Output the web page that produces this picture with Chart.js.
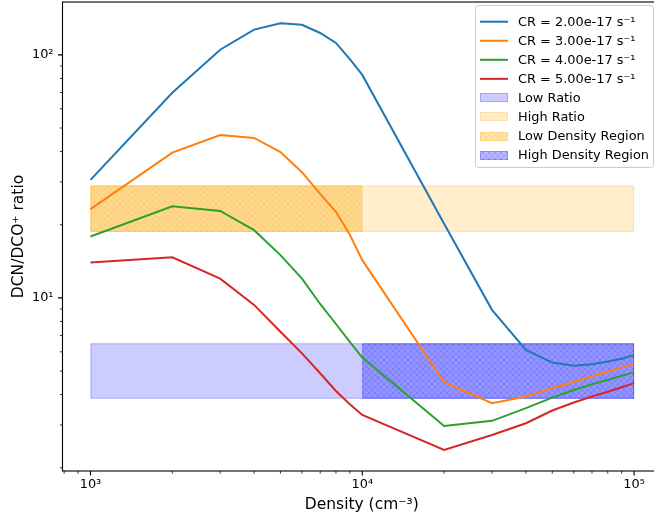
<!DOCTYPE html>
<html>
<head>
<meta charset="utf-8">
<script src="https://cdn.jsdelivr.net/npm/chart.js@4.4.1/dist/chart.umd.min.js"></script>
<style>
  html, body { margin: 0; padding: 0; background: #fff; overflow: hidden; }
  canvas { display: block; }
</style>
</head>
<body>
<canvas id="ratioChart" width="663" height="520"></canvas>
<script>
// densities (cm^-3) on the x axis
const densities = [1000, 2000, 3000, 4000, 5000, 6000, 7000, 8000, 9000, 10000,
  20000, 30000, 40000, 50000, 60000, 70000, 80000, 90000, 100000];

// DCN/DCO+ ratio for each cosmic ray rate
const cr2 = [30.6, 69.8, 105, 127, 135, 133, 123, 112, 96, 82.7, 20.2, 8.93, 6.11, 5.42, 5.26, 5.33, 5.47, 5.62, 5.82];
const cr3 = [23.2, 39.6, 46.8, 45.5, 39.8, 32.9, 26.8, 22.6, 18.2, 14.3, 4.50, 3.69, 3.93, 4.25, 4.51, 4.76, 4.98, 5.18, 5.38];
const cr4 = [17.9, 23.8, 22.8, 19.0, 15.0, 12.0, 9.44, 7.81, 6.59, 5.68, 2.97, 3.12, 3.52, 3.89, 4.18, 4.41, 4.60, 4.78, 4.94];
const cr5 = [14.0, 14.7, 12.0, 9.36, 7.26, 5.91, 4.90, 4.14, 3.65, 3.30, 2.37, 2.73, 3.05, 3.44, 3.71, 3.93, 4.11, 4.29, 4.46];

const crLabels = ["CR = 2.00e-17 s⁻¹", "CR = 3.00e-17 s⁻¹", "CR = 4.00e-17 s⁻¹", "CR = 5.00e-17 s⁻¹"];
const crColors = ["#1f77b4", "#ff7f0e", "#2ca02c", "#d62728"];

// shaded regions
const lowRatioRange = [3.85, 6.5];
const highRatioRange = [18.7, 29];
const lowDensityRange = [1000, 10000];
const highDensityRange = [10000, 100000];

// ticks
const xMajorTicks = [1000, 10000, 100000];
const xMajorLabels = ["10³", "10⁴", "10⁵"];
const xMinorTicks = [800, 900, 2000, 3000, 4000, 5000, 6000, 7000, 8000, 9000,
  20000, 30000, 40000, 50000, 60000, 70000, 80000, 90000];
const yMajorTicks = [10, 100];
const yMajorLabels = ["10¹", "10²"];
const yMinorTicks = [2, 3, 4, 5, 6, 7, 8, 9, 20, 30, 40, 50, 60, 70, 80, 90];

const FONT = "'DejaVu Sans', sans-serif";

function hatchPattern(ctx, color) {
  const c = document.createElement("canvas");
  c.width = 6; c.height = 6;
  const g = c.getContext("2d");
  g.strokeStyle = color;
  g.lineWidth = 0.8;
  g.beginPath();
  g.moveTo(0, 0); g.lineTo(6, 6);
  g.moveTo(6, 0); g.lineTo(0, 6);
  g.stroke();
  return ctx.createPattern(c, "repeat");
}

const bands = [
  { label: "Low Ratio", xr: [densities[0], densities[densities.length - 1]], yr: lowRatioRange, fill: "rgba(0,0,255,0.2)", hatch: null },
  { label: "High Ratio", xr: [densities[0], densities[densities.length - 1]], yr: highRatioRange, fill: "rgba(255,165,0,0.2)", hatch: null },
  { label: "Low Density Region", xr: lowDensityRange, yr: highRatioRange, fill: "rgba(255,165,0,0.3)", hatch: "rgba(255,165,0,0.22)" },
  { label: "High Density Region", xr: highDensityRange, yr: lowRatioRange, fill: "rgba(0,0,255,0.28)", hatch: "rgba(0,0,255,0.2)" }
];

function paintPatch(ctx, b, x, y, w, h) {
  ctx.fillStyle = b.fill;
  ctx.fillRect(x, y, w, h);
  if (b.hatch) {
    ctx.fillStyle = hatchPattern(ctx, b.hatch);
    ctx.fillRect(x, y, w, h);
  }
  ctx.strokeStyle = b.hatch || b.fill;
  ctx.lineWidth = 1;
  ctx.strokeRect(x + 0.5, y + 0.5, w - 1, h - 1);
}

const bandsPlugin = {
  id: "bands",
  beforeDatasetsDraw(chart) {
    const { ctx, chartArea, scales } = chart;
    ctx.save();
    ctx.beginPath();
    ctx.rect(chartArea.left, chartArea.top, chartArea.width, chartArea.height);
    ctx.clip();
    bands.forEach(b => {
      const x0 = scales.x.getPixelForValue(b.xr[0]);
      const x1 = scales.x.getPixelForValue(b.xr[1]);
      const y0 = scales.y.getPixelForValue(b.yr[1]);
      const y1 = scales.y.getPixelForValue(b.yr[0]);
      paintPatch(ctx, b, x0, y0, x1 - x0, y1 - y0);
    });
    ctx.restore();
  }
};

// spines + tick marks
const framePlugin = {
  id: "frame",
  afterDatasetsDraw(chart) {
    const { ctx, chartArea: a, scales } = chart;
    ctx.save();
    ctx.strokeStyle = "#000";
    ctx.lineWidth = 1.1;
    ctx.strokeRect(a.left, a.top, a.right - a.left, a.bottom - a.top);
    const tick = (vals, len, w) => {
      ctx.lineWidth = w;
      ctx.beginPath();
      vals.forEach(v => {
        const px = scales.x.getPixelForValue(v);
        if (px >= a.left && px <= a.right) { ctx.moveTo(px, a.bottom); ctx.lineTo(px, a.bottom + len); }
      });
      ctx.stroke();
    };
    const ytick = (vals, len, w) => {
      ctx.lineWidth = w;
      ctx.beginPath();
      vals.forEach(v => {
        const py = scales.y.getPixelForValue(v);
        if (py >= a.top && py <= a.bottom) { ctx.moveTo(a.left, py); ctx.lineTo(a.left - len, py); }
      });
      ctx.stroke();
    };
    tick(xMajorTicks, 4.5, 1.1);
    tick(xMinorTicks, 2.6, 0.8);
    ytick(yMajorTicks, 4.5, 1.1);
    ytick(yMinorTicks, 2.6, 0.8);
    ctx.restore();
  }
};

const legendPlugin = {
  id: "boxLegend",
  afterDraw(chart) {
    const ctx = chart.ctx;
    const bx = 475.5, by = 5.5, bw = 178, bh = 162, r = 3;
    ctx.save();
    ctx.beginPath();
    ctx.moveTo(bx + r, by);
    ctx.arcTo(bx + bw, by, bx + bw, by + bh, r);
    ctx.arcTo(bx + bw, by + bh, bx, by + bh, r);
    ctx.arcTo(bx, by + bh, bx, by, r);
    ctx.arcTo(bx, by, bx + bw, by, r);
    ctx.closePath();
    ctx.fillStyle = "rgba(255,255,255,0.8)";
    ctx.fill();
    ctx.strokeStyle = "#cccccc";
    ctx.lineWidth = 1;
    ctx.stroke();

    ctx.font = "12.9px " + FONT;
    ctx.textBaseline = "middle";
    ctx.textAlign = "left";
    let row = 0;
    const rowY = i => 21.7 + 19.05 * i;
    chart.data.datasets.forEach(ds => {
      const cy = rowY(row++);
      ctx.strokeStyle = ds.borderColor;
      ctx.lineWidth = 2;
      ctx.beginPath();
      ctx.moveTo(480, cy);
      ctx.lineTo(508, cy);
      ctx.stroke();
      ctx.fillStyle = "#000";
      ctx.fillText(ds.label, 518, cy + 0.5);
    });
    bands.forEach(b => {
      const cy = rowY(row++);
      paintPatch(ctx, b, 480, Math.round(cy - 4.5), 28, 9);
      ctx.fillStyle = "#000";
      ctx.fillText(b.label, 518, cy + 0.5);
    });
    ctx.restore();
  }
};

function tickLabel(majors, labels) {
  return v => {
    const i = majors.findIndex(m => Math.abs(m - v) < 1e-6 * m);
    return i >= 0 ? labels[i] : "";
  };
}

function noPad(s) {
  s.paddingTop = 0; s.paddingBottom = 0; s.paddingLeft = 0; s.paddingRight = 0;
}

new Chart(document.getElementById("ratioChart"), {
  type: "line",
  data: {
    datasets: [cr2, cr3, cr4, cr5].map((vals, i) => ({
      label: crLabels[i],
      data: densities.map((d, k) => ({ x: d, y: vals[k] })),
      borderColor: crColors[i],
      borderWidth: 2,
      pointRadius: 0,
      tension: 0,
      fill: false,
      order: 3 - i
    }))
  },
  options: {
    responsive: false,
    animation: false,
    devicePixelRatio: 1,
    layout: { padding: { top: 2, right: 2, left: 0, bottom: 0 } },
    plugins: { legend: { display: false }, tooltip: { enabled: false } },
    scales: {
      x: {
        type: "logarithmic",
        min: 789,
        max: 125600,
        bounds: "data",
        afterBuildTicks: s => { s.ticks = xMajorTicks.concat(xMinorTicks).sort((a, b) => a - b).map(v => ({ value: v })); },
        afterFit: s => { s.height = 49; noPad(s); },
        grid: { display: false, drawTicks: false },
        border: { display: false },
        ticks: {
          autoSkip: false, maxRotation: 0, minRotation: 0, padding: 6,
          color: "#000", font: { family: FONT, size: 12.9 },
          callback: tickLabel(xMajorTicks, xMajorLabels)
        },
        title: {
          display: true, text: "Density (cm⁻³)", color: "#000",
          font: { family: FONT, size: 15.5 }, padding: { top: 0, bottom: 6 }
        }
      },
      y: {
        type: "logarithmic",
        min: 1.94,
        max: 165,
        bounds: "data",
        afterBuildTicks: s => { s.ticks = yMajorTicks.concat(yMinorTicks).sort((a, b) => a - b).map(v => ({ value: v })); },
        afterFit: s => { s.width = 62.5; noPad(s); },
        grid: { display: false, drawTicks: false },
        border: { display: false },
        ticks: {
          autoSkip: false, padding: 9,
          color: "#000", font: { family: FONT, size: 12.9 },
          callback: tickLabel(yMajorTicks, yMajorLabels)
        },
        title: {
          display: true, text: "DCN/DCO⁺ ratio", color: "#000",
          font: { family: FONT, size: 15.5 }, padding: { top: 10, bottom: 0 }
        }
      }
    }
  },
  plugins: [bandsPlugin, framePlugin, legendPlugin]
});
</script>
</body>
</html>
